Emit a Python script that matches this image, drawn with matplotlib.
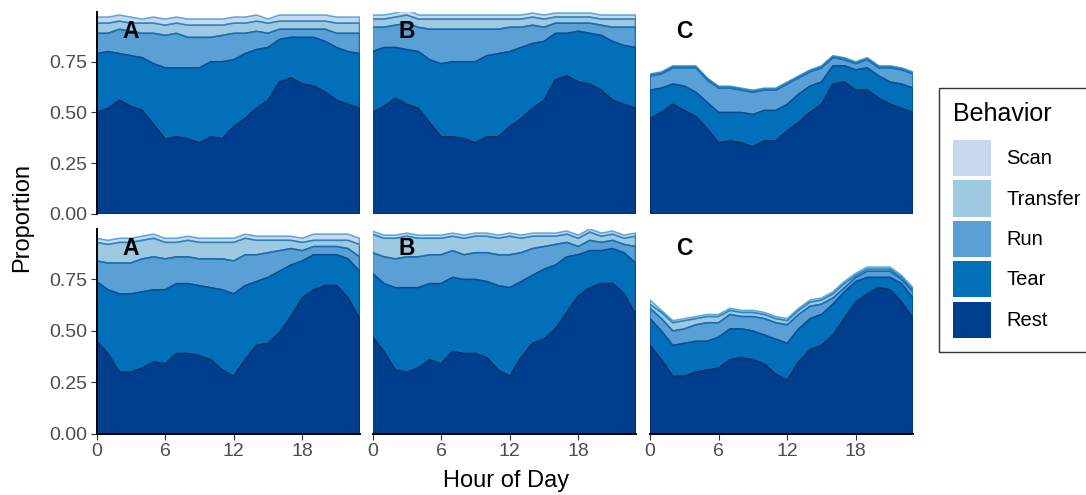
import numpy as np
import matplotlib.pyplot as plt
from matplotlib.patches import Patch

plt.rcParams['font.family'] = ['Liberation Sans', 'DejaVu Sans']

hours = np.arange(24)
behaviors = ['Rest', 'Tear', 'Run', 'Transfer', 'Scan']
panel_labels = ['A', 'B', 'C']

# proportions per hour, row 1
rest_a1 = [0.50, 0.52, 0.56, 0.53, 0.51, 0.44, 0.37, 0.38, 0.37, 0.35, 0.38, 0.37, 0.43, 0.47, 0.52, 0.56, 0.65, 0.67, 0.64, 0.63, 0.60, 0.56, 0.54, 0.52]
tear_a1 = [0.29, 0.28, 0.23, 0.25, 0.26, 0.30, 0.35, 0.34, 0.35, 0.37, 0.37, 0.38, 0.33, 0.32, 0.29, 0.26, 0.21, 0.20, 0.23, 0.24, 0.25, 0.26, 0.26, 0.27]
run_a1 = [0.10, 0.09, 0.12, 0.12, 0.12, 0.15, 0.16, 0.17, 0.15, 0.15, 0.12, 0.13, 0.13, 0.10, 0.09, 0.07, 0.05, 0.04, 0.04, 0.04, 0.06, 0.07, 0.09, 0.10]
transfer_a1 = [0.05, 0.05, 0.04, 0.04, 0.05, 0.05, 0.05, 0.05, 0.06, 0.06, 0.06, 0.05, 0.05, 0.05, 0.05, 0.05, 0.04, 0.04, 0.04, 0.04, 0.04, 0.05, 0.05, 0.05]
scan_a1 = [0.03, 0.03, 0.03, 0.03, 0.02, 0.03, 0.03, 0.03, 0.03, 0.03, 0.03, 0.03, 0.03, 0.03, 0.03, 0.02, 0.03, 0.03, 0.03, 0.03, 0.03, 0.03, 0.03, 0.03]

rest_b1 = [0.50, 0.53, 0.57, 0.54, 0.52, 0.45, 0.38, 0.38, 0.37, 0.35, 0.38, 0.38, 0.43, 0.47, 0.52, 0.56, 0.66, 0.68, 0.65, 0.64, 0.61, 0.56, 0.54, 0.52]
tear_b1 = [0.30, 0.29, 0.25, 0.27, 0.28, 0.31, 0.36, 0.37, 0.38, 0.40, 0.40, 0.41, 0.37, 0.35, 0.32, 0.29, 0.23, 0.21, 0.25, 0.25, 0.27, 0.29, 0.29, 0.30]
run_b1 = [0.12, 0.10, 0.11, 0.13, 0.12, 0.15, 0.17, 0.16, 0.16, 0.16, 0.13, 0.12, 0.12, 0.10, 0.09, 0.07, 0.05, 0.05, 0.04, 0.05, 0.05, 0.07, 0.09, 0.10]
transfer_b1 = [0.04, 0.04, 0.04, 0.04, 0.04, 0.05, 0.05, 0.05, 0.05, 0.05, 0.05, 0.05, 0.04, 0.04, 0.04, 0.04, 0.03, 0.03, 0.03, 0.03, 0.03, 0.04, 0.04, 0.04]
scan_b1 = [0.02, 0.02, 0.02, 0.03, 0.02, 0.02, 0.02, 0.02, 0.02, 0.02, 0.02, 0.02, 0.02, 0.02, 0.02, 0.02, 0.02, 0.02, 0.02, 0.02, 0.02, 0.02, 0.02, 0.02]

rest_c1 = [0.47, 0.50, 0.54, 0.51, 0.48, 0.42, 0.35, 0.36, 0.35, 0.33, 0.36, 0.36, 0.41, 0.45, 0.50, 0.54, 0.64, 0.65, 0.61, 0.61, 0.57, 0.54, 0.52, 0.50]
tear_c1 = [0.14, 0.12, 0.10, 0.12, 0.12, 0.13, 0.15, 0.14, 0.15, 0.16, 0.15, 0.15, 0.13, 0.14, 0.13, 0.11, 0.09, 0.08, 0.10, 0.11, 0.11, 0.11, 0.12, 0.12]
run_c1 = [0.07, 0.07, 0.08, 0.09, 0.12, 0.11, 0.12, 0.12, 0.11, 0.11, 0.10, 0.10, 0.10, 0.08, 0.07, 0.07, 0.04, 0.03, 0.03, 0.04, 0.04, 0.07, 0.07, 0.07]
transfer_c1 = [0.006] * 24
scan_c1 = [0.004] * 24

# proportions per hour, row 2
rest_a2 = [0.45, 0.39, 0.30, 0.30, 0.32, 0.35, 0.34, 0.39, 0.39, 0.38, 0.36, 0.31, 0.28, 0.36, 0.43, 0.44, 0.49, 0.57, 0.66, 0.70, 0.72, 0.72, 0.66, 0.56]
tear_a2 = [0.29, 0.31, 0.38, 0.38, 0.37, 0.35, 0.36, 0.34, 0.34, 0.34, 0.35, 0.39, 0.40, 0.36, 0.31, 0.32, 0.30, 0.25, 0.18, 0.17, 0.15, 0.15, 0.19, 0.23]
run_a2 = [0.10, 0.13, 0.15, 0.15, 0.16, 0.16, 0.15, 0.13, 0.13, 0.13, 0.14, 0.15, 0.16, 0.15, 0.13, 0.12, 0.10, 0.08, 0.05, 0.04, 0.04, 0.04, 0.05, 0.07]
transfer_a2 = [0.09, 0.09, 0.10, 0.10, 0.09, 0.09, 0.08, 0.07, 0.08, 0.08, 0.08, 0.08, 0.09, 0.08, 0.07, 0.06, 0.05, 0.04, 0.04, 0.03, 0.03, 0.03, 0.04, 0.06]
scan_a2 = [0.02, 0.02, 0.02, 0.02, 0.02, 0.02, 0.02, 0.02, 0.02, 0.02, 0.02, 0.02, 0.02, 0.02, 0.02, 0.02, 0.02, 0.02, 0.02, 0.03, 0.03, 0.03, 0.03, 0.03]

rest_b2 = [0.47, 0.40, 0.31, 0.30, 0.32, 0.36, 0.34, 0.40, 0.39, 0.39, 0.37, 0.31, 0.28, 0.37, 0.44, 0.46, 0.51, 0.59, 0.67, 0.71, 0.73, 0.73, 0.68, 0.58]
tear_b2 = [0.31, 0.33, 0.40, 0.41, 0.39, 0.37, 0.39, 0.36, 0.36, 0.36, 0.37, 0.41, 0.43, 0.37, 0.33, 0.34, 0.31, 0.27, 0.20, 0.18, 0.16, 0.17, 0.20, 0.25]
run_b2 = [0.10, 0.13, 0.14, 0.15, 0.15, 0.14, 0.14, 0.13, 0.12, 0.13, 0.14, 0.15, 0.16, 0.14, 0.13, 0.11, 0.10, 0.07, 0.04, 0.05, 0.04, 0.04, 0.04, 0.08]
transfer_b2 = [0.09, 0.09, 0.10, 0.10, 0.09, 0.08, 0.08, 0.07, 0.08, 0.08, 0.08, 0.08, 0.09, 0.07, 0.06, 0.05, 0.04, 0.04, 0.04, 0.04, 0.03, 0.03, 0.03, 0.05]
scan_b2 = [0.015] * 24

rest_c2 = [0.43, 0.36, 0.28, 0.28, 0.30, 0.31, 0.32, 0.36, 0.37, 0.36, 0.34, 0.29, 0.26, 0.35, 0.41, 0.43, 0.48, 0.56, 0.64, 0.68, 0.71, 0.70, 0.64, 0.56]
tear_c2 = [0.13, 0.14, 0.15, 0.16, 0.15, 0.14, 0.15, 0.15, 0.14, 0.14, 0.14, 0.17, 0.18, 0.16, 0.15, 0.15, 0.15, 0.13, 0.10, 0.08, 0.05, 0.06, 0.09, 0.10]
run_c2 = [0.05, 0.06, 0.07, 0.07, 0.08, 0.09, 0.07, 0.07, 0.06, 0.07, 0.08, 0.08, 0.09, 0.07, 0.06, 0.05, 0.03, 0.02, 0.02, 0.03, 0.03, 0.03, 0.02, 0.03]
transfer_c2 = [0.02, 0.03, 0.04, 0.04, 0.03, 0.03, 0.03, 0.02, 0.02, 0.02, 0.02, 0.02, 0.02, 0.02, 0.02, 0.02, 0.02, 0.02, 0.01, 0.01, 0.01, 0.01, 0.01, 0.01]
scan_c2 = [0.02, 0.01, 0.01, 0.01, 0.01, 0.01, 0.01, 0.01, 0.01, 0.01, 0.01, 0.01, 0.01, 0.01, 0.01, 0.01, 0.01, 0.01, 0.01, 0.01, 0.01, 0.01, 0.01, 0.01]

panels = [
    [[rest_a1, tear_a1, run_a1, transfer_a1, scan_a1],
     [rest_b1, tear_b1, run_b1, transfer_b1, scan_b1],
     [rest_c1, tear_c1, run_c1, transfer_c1, scan_c1]],
    [[rest_a2, tear_a2, run_a2, transfer_a2, scan_a2],
     [rest_b2, tear_b2, run_b2, transfer_b2, scan_b2],
     [rest_c2, tear_c2, run_c2, transfer_c2, scan_c2]],
]

fills = ['#003e8f', '#0270b9', '#5aa0d4', '#9ec9e1', '#c6d7ef']
edges = ['#0c2d6a', '#0a4c98', '#1b6db3', '#2a86c3', '#5aa6d6']

W, H = 1086, 495
fig = plt.figure(figsize=(W / 100, H / 100), dpi=100)

col_left = [96.5, 372.5, 650]
col_w = 263
rows = [(12, 214), (229, 434)]

for r in range(2):
    y0, y1 = rows[r]
    for c in range(3):
        ax = fig.add_axes([col_left[c] / W, 1 - y1 / H, col_w / W, (y1 - y0) / H])
        layers = np.array(panels[r][c])
        tops = np.cumsum(layers, axis=0)
        bottoms = np.vstack([np.zeros(24), tops[:-1]])
        for i in range(5):
            ax.fill_between(hours, bottoms[i], tops[i], facecolor=fills[i], lw=0)
        for i in reversed(range(5)):
            ax.fill_between(hours, bottoms[i], tops[i], facecolor='none',
                            edgecolor=edges[i], lw=1.1)
        ax.set_xlim(0, 23)
        ax.set_ylim(0, 0.995)
        ax.text(3, 0.9, panel_labels[c], fontsize=16.5, fontweight='bold',
                ha='center', va='center')
        for s in ['top', 'right']:
            ax.spines[s].set_visible(False)
        ax.tick_params(colors='#333333', labelcolor='#4d4d4d', labelsize=14,
                       length=4.3, width=0.8, pad=2.5)
        ax.set_yticks([0, 0.25, 0.5, 0.75])
        if c == 0:
            ax.set_yticklabels(['0.00', '0.25', '0.50', '0.75'])
            ax.spines['left'].set_linewidth(1.4)
        else:
            ax.spines['left'].set_visible(False)
            ax.tick_params(left=False, labelleft=False)
        ax.set_xticks([0, 6, 12, 18])
        if r == 1:
            ax.spines['bottom'].set_linewidth(1.4)
            ax.set_xticklabels(['0', '6', '12', '18'])
        else:
            ax.spines['bottom'].set_visible(False)
            ax.tick_params(bottom=False, labelbottom=False)

fig.text(22 / W, 1 - 218 / H, 'Proportion', rotation=90, ha='center', va='center',
         fontsize=17)
fig.text(506 / W, 1 - 481 / H, 'Hour of Day', ha='center', va='center', fontsize=17)

handles = [Patch(facecolor=fills[i], edgecolor='none') for i in reversed(range(5))]
leg = fig.legend(handles, list(reversed(behaviors)), title='Behavior',
                 loc='upper left', bbox_to_anchor=(939 / W, 1 - 88 / H),
                 borderaxespad=0, fontsize=14.5, title_fontsize=18,
                 handlelength=1.9, handleheight=2.4, labelspacing=0.2,
                 handletextpad=0.75, borderpad=0.7, fancybox=False,
                 edgecolor='black', alignment='left')
leg._legend_box.sep = 10
leg.get_frame().set_linewidth(1.0)

fig.savefig('out.png', dpi=100)
